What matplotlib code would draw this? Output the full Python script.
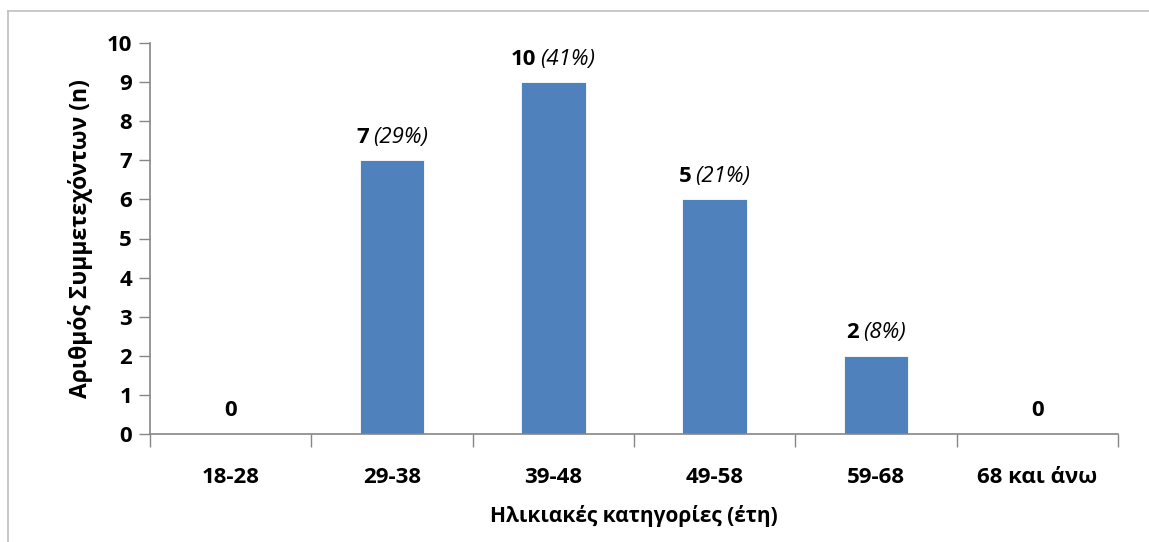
import matplotlib
matplotlib.use("Agg")
import matplotlib.pyplot as plt
import numpy as np
from matplotlib.offsetbox import TextArea, HPacker, AnnotationBbox
from matplotlib.lines import Line2D

categories = ["18-28", "29-38", "39-48", "49-58", "59-68", "68 και άνω"]
bar_heights = [0, 7, 9, 6, 2, 0]
label_counts = ["0", "7", "10", "5", "2", "0"]
label_pcts = ["", "(29%)", "(41%)", "(21%)", "(8%)", ""]
y_ticks = list(range(0, 11))

plt.rcParams['font.family'] = ['Open Sans', 'DejaVu Sans']

W, H = 1149, 542
fig = plt.figure(figsize=(W / 100, H / 100), dpi=100)
ax = fig.add_axes([150 / W, 1 - 434 / H, (1118 - 150) / W, (434 - 43) / H])

x = np.arange(len(categories))
ax.bar(x, bar_heights, width=0.40, color="#4F81BD", edgecolor="white", linewidth=0.6, zorder=2)

ax.set_xlim(-0.5, len(categories) - 0.5)
ax.set_ylim(0, 10)
ax.set_yticks(y_ticks)
ax.set_yticklabels([str(t) for t in y_ticks], fontsize=16, fontweight="bold")
ax.set_xticks(x)
ax.set_xticklabels(categories, fontsize=16, fontweight="bold")
ax.set_xticks(np.arange(-0.5, len(categories)), minor=True)
ax.tick_params(axis="x", which="major", length=0, pad=24)
ax.tick_params(axis="x", which="minor", length=9, color="#868686", width=1)
ax.tick_params(axis="y", length=8, color="#868686", width=1, pad=5)

for s in ["top", "right"]:
    ax.spines[s].set_visible(False)
for s in ["left", "bottom"]:
    ax.spines[s].set_color("#868686")
    ax.spines[s].set_linewidth(1.2)

ax.set_ylabel("Αριθμός Συμμετεχόντων (n)", fontsize=16.5, fontweight="bold", labelpad=10)
ax.set_xlabel("Ηλικιακές κατηγορίες (έτη)", fontsize=15, fontweight="bold", labelpad=12)

for xi, h, c, p in zip(x, bar_heights, label_counts, label_pcts):
    children = [TextArea(c, textprops=dict(fontsize=16, fontweight="bold", color="black"))]
    if p:
        children.append(TextArea(p, textprops=dict(fontsize=16, fontstyle="italic", color="black")))
    box = HPacker(children=children, align="baseline", pad=0, sep=3)
    ab = AnnotationBbox(box, (xi, h), xybox=(0, 9), xycoords="data", boxcoords="offset points",
                        box_alignment=(0.5, 0), frameon=False, annotation_clip=False)
    ax.add_artist(ab)

# outer chart frame (partially visible)
fx = 8 / W
fy = 1 - 11 / H
fig.add_artist(Line2D([fx, fx], [0, fy], transform=fig.transFigure, color="#BFBFBF", lw=1.2))
fig.add_artist(Line2D([fx, 1], [fy, fy], transform=fig.transFigure, color="#BFBFBF", lw=1.2))

fig.savefig("out.png", dpi=100, facecolor="white")
